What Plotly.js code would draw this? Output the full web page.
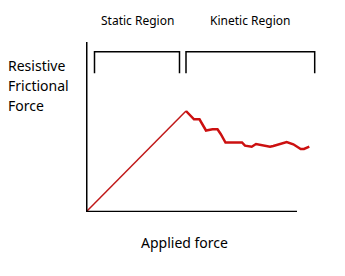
<!DOCTYPE html>
<html>
<head>
<meta charset="utf-8">
<script src="https://cdn.plot.ly/plotly-3.0.1.min.js"></script>
<style>html,body{margin:0;padding:0;background:#fff;}#chart{width:345px;height:276px;}</style>
</head>
<body>
<div id="chart"></div>
<script>
// Applied force (x) vs resistive frictional force (y), arbitrary units
const staticX = [0, 100];
const staticY = [0, 101];
const kineticX = [100, 108, 113.5, 120, 126.5, 131.5, 134.7, 139.5, 156, 159, 165.7, 170, 184, 187.3, 200.7, 207.3, 214.7, 218, 223.3];
const kineticY = [101, 92.7, 92.7, 81.5, 82.7, 82.7, 78, 69.5, 69.5, 66.3, 65.3, 68, 65.3, 66, 70, 67.7, 63, 63, 65.3];
const regionLabels = ["Static Region", "Kinetic Region"];
const yLabelLines = ["Resistive", "Frictional", "Force"];
const xLabel = "Applied force";

const W = 345, H = 276, L = 86, T = 42, R = 320, B = 212;
const px = x => (x - L) / (R - L);
const py = y => (B - y) / (B - T);
const font = "Noto Sans, DejaVu Sans, sans-serif";

const traces = [
  {x: staticX, y: staticY, mode: 'lines', line: {color: '#c01818', width: 1.5}, hoverinfo: 'skip', cliponaxis: false},
  {x: kineticX, y: kineticY, mode: 'lines', line: {color: '#cc1010', width: 2.5}, hoverinfo: 'skip', cliponaxis: false}
];

function bracket(x0, x1) {
  const yTop = B - 51.7, yBot = B - 73.3;
  return {type: 'path', xref: 'x', yref: 'y',
    path: `M ${x0 - L} ${yBot} L ${x0 - L} ${yTop} L ${x1 - L} ${yTop} L ${x1 - L} ${yBot}`,
    line: {color: '#000', width: 1.5}};
}

const shapes = [
  {type: 'line', xref: 'x', yref: 'y', x0: 85.5 - L, x1: 85.5 - L, y0: B - 41.5, y1: B - 214.5, line: {color: '#000', width: 4}},
  {type: 'line', xref: 'x', yref: 'y', x0: 83.5 - L, x1: 297 - L, y0: B - 212.7, y1: B - 212.7, line: {color: '#000', width: 4}},
  bracket(94.5, 179.5),
  bracket(186, 314.7)
];

const annotations = [
  {text: regionLabels[0], x: px(137.5), y: py(20), xref: 'paper', yref: 'paper', showarrow: false, xanchor: 'center', yanchor: 'middle', font: {family: font, size: 12, color: '#000'}},
  {text: regionLabels[1], x: px(250), y: py(20), xref: 'paper', yref: 'paper', showarrow: false, xanchor: 'center', yanchor: 'middle', font: {family: font, size: 12, color: '#000'}},
  {text: xLabel, x: px(184.5), y: py(242), xref: 'paper', yref: 'paper', showarrow: false, xanchor: 'center', yanchor: 'middle', font: {family: font, size: 14, color: '#000'}}
];
const yCenters = [65, 85, 105];
yLabelLines.forEach((t, i) => annotations.push({text: t, x: px(6), y: py(yCenters[i]), xref: 'paper', yref: 'paper', showarrow: false, xanchor: 'left', yanchor: 'middle', font: {family: font, size: 14, color: '#000'}}));

const layout = {
  width: W, height: H,
  margin: {l: L, r: W - R, t: T, b: H - B, pad: 0},
  paper_bgcolor: '#fff', plot_bgcolor: '#fff',
  showlegend: false,
  xaxis: {range: [0, R - L], visible: false, fixedrange: true},
  yaxis: {range: [0, B - T], visible: false, fixedrange: true},
  shapes: shapes,
  annotations: annotations
};

Plotly.newPlot('chart', traces, layout, {staticPlot: true, displayModeBar: false});
</script>
</body>
</html>
